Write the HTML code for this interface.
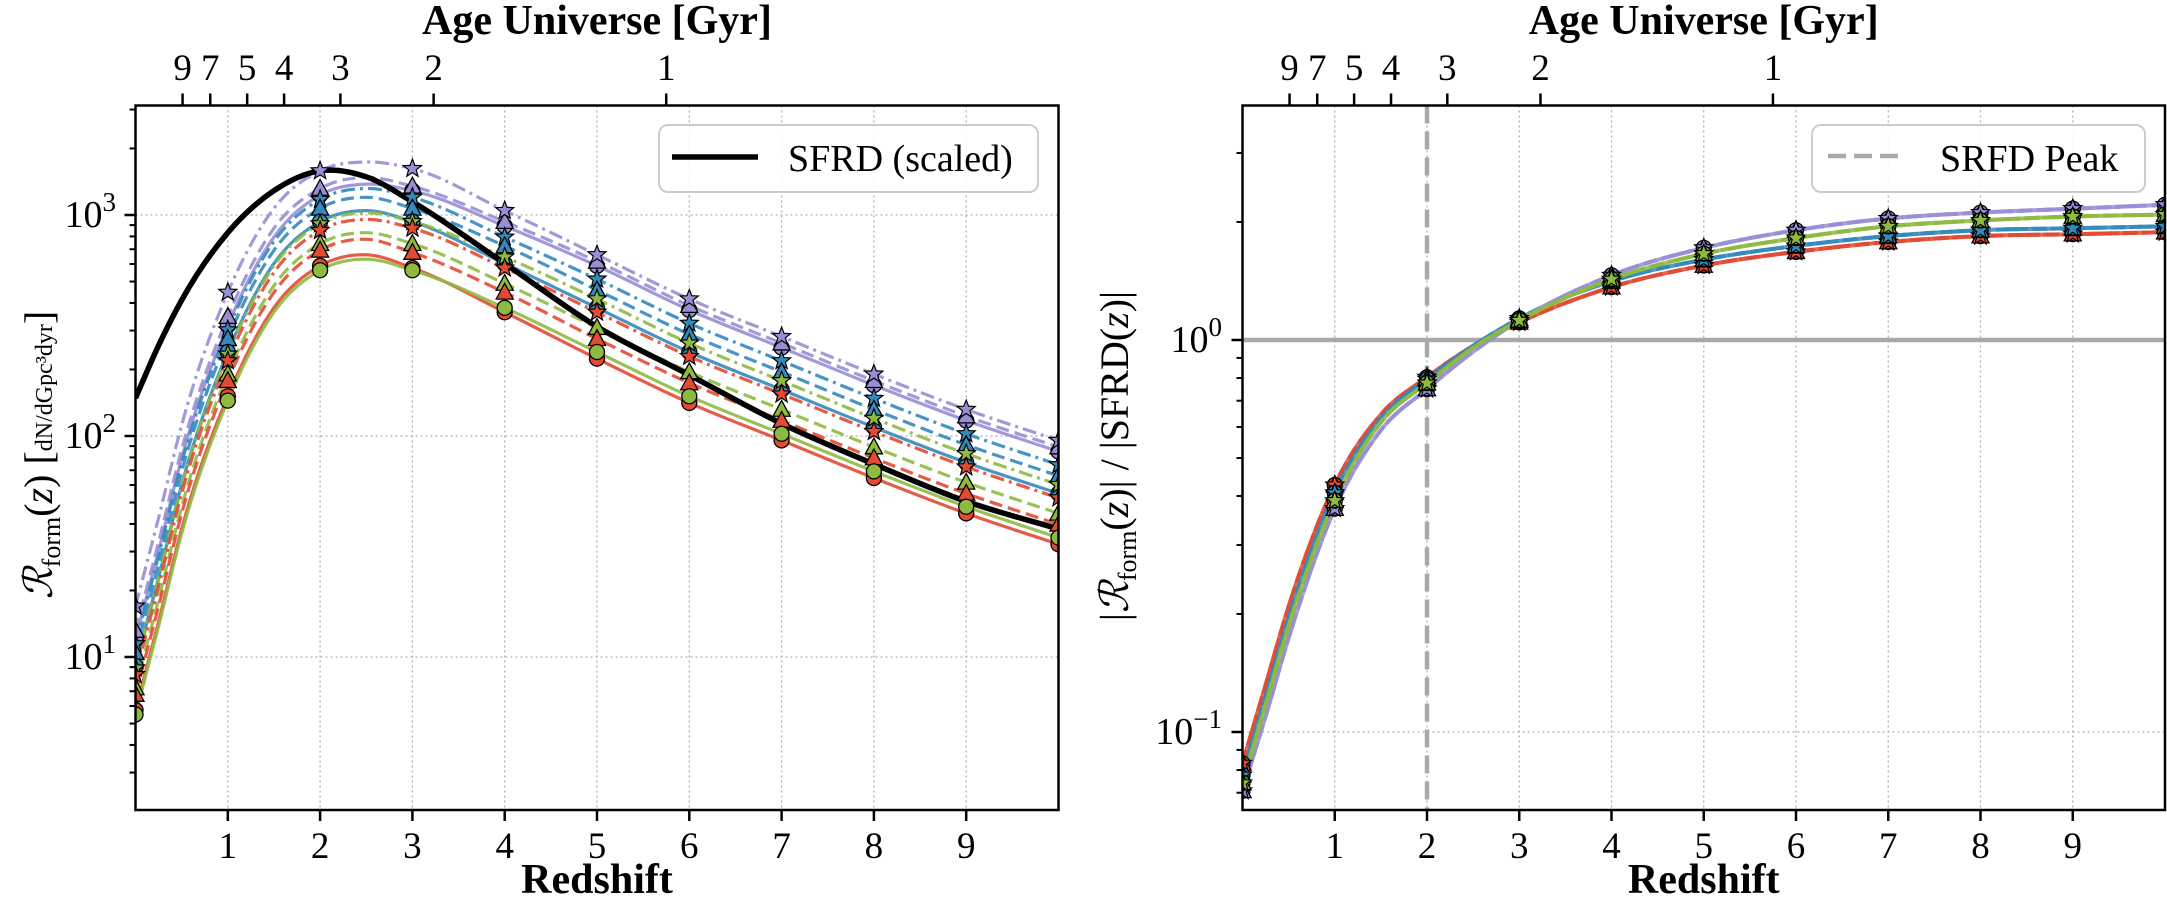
<!DOCTYPE html>
<html><head><meta charset="utf-8">
<style>
html,body{margin:0;padding:0;background:#fff;}
svg{display:block;font-family:"Liberation Serif","DejaVu Serif",serif;}
</style></head>
<body>
<svg id="fig" width="2167" height="904" viewBox="0 0 2167 904" xmlns="http://www.w3.org/2000/svg">
<defs>
<clipPath id="clipL"><rect x="135.5" y="105.5" width="923" height="704.5"/></clipPath>
<clipPath id="clipR"><rect x="1242.5" y="105.5" width="922.5" height="704.5"/></clipPath>
</defs>
<g id="left"></g>
<g id="right"></g>
</svg>
<script>
// ---------- data ----------
const zGrid = [0,0.25,0.5,1,1.5,2,2.5,3,4,5,6,7,8,9,10];
const sfrdLog = [2.172,2.41,2.615,2.92,3.11,3.20,3.173,3.06,2.78,2.495,2.276,2.056,1.873,1.704,1.579];
// log10 formation rate per model (left panel)
const purpleCircle = [1.08,1.48,1.90,2.50,2.90,3.09,3.14,3.11,2.95,2.77,2.57,2.40,2.23,2.07,1.93];
const purpleTri    = [1.12,1.52,1.94,2.54,2.94,3.12,3.17,3.13,2.97,2.79,2.59,2.42,2.25,2.09,1.95];
const purpleStar   = [1.23,1.63,2.05,2.65,3.03,3.20,3.24,3.21,3.02,2.82,2.62,2.45,2.28,2.12,1.98];
const blueStar     = [1.06,1.46,1.88,2.48,2.88,3.07,3.12,3.08,2.90,2.71,2.51,2.34,2.17,2.01,1.87];
const blueTri      = [1.02,1.42,1.84,2.44,2.84,3.03,3.08,3.03,2.86,2.66,2.46,2.29,2.12,1.96,1.82];
const blueCircle   = [0.96,1.36,1.78,2.38,2.78,2.97,3.02,2.97,2.78,2.58,2.38,2.21,2.04,1.88,1.74];
const greenStar    = [0.95,1.35,1.77,2.37,2.77,2.96,3.01,2.97,2.81,2.62,2.42,2.25,2.08,1.92,1.78];
const orangeStar   = [0.92,1.32,1.74,2.34,2.74,2.93,2.98,2.94,2.76,2.56,2.36,2.19,2.02,1.86,1.72];
const greenTri     = [0.86,1.26,1.68,2.28,2.68,2.87,2.92,2.87,2.69,2.49,2.29,2.12,1.95,1.79,1.65];
const orangeTri    = [0.83,1.23,1.65,2.25,2.65,2.84,2.89,2.83,2.65,2.44,2.24,2.07,1.90,1.74,1.60];
const orangeCircle = [0.76,1.16,1.58,2.18,2.58,2.77,2.82,2.76,2.56,2.35,2.15,1.98,1.81,1.65,1.51];
const greenCircle  = [0.74,1.14,1.56,2.16,2.56,2.75,2.80,2.75,2.58,2.38,2.18,2.01,1.84,1.68,1.54];
// log10 ratio Rform/SFRD (right panel), per colour
const ratioPurple = [-1.15,-0.96,-0.76,-0.43,-0.23,-0.125,-0.03,0.05,0.165,0.235,0.28,0.31,0.325,0.335,0.345];
const ratioBlue   = [-1.11,-0.91,-0.71,-0.39,-0.20,-0.10,-0.015,0.055,0.15,0.205,0.24,0.265,0.28,0.285,0.29];
const ratioOrange = [-1.08,-0.88,-0.68,-0.37,-0.19,-0.095,-0.015,0.045,0.135,0.19,0.225,0.25,0.265,0.27,0.275];
const ratioGreen  = [-1.13,-0.93,-0.73,-0.41,-0.21,-0.11,-0.02,0.05,0.155,0.22,0.26,0.29,0.305,0.315,0.32];
const ageLabels = ["9","7","5","4","3","2","1"];
const ageZ = [0.51,0.81,1.21,1.61,2.22,3.23,5.75];
const xTickLabels = ["1","2","3","4","5","6","7","8","9"];
const peakZ = 2;

// ---------- helpers ----------
const NS="http://www.w3.org/2000/svg";
function mk(tag, attrs, parent){const e=document.createElementNS(NS,tag);for(const k in attrs)e.setAttribute(k,attrs[k]);parent.appendChild(e);return e;}
const C={purple:"#988ED5",blue:"#348ABD",orange:"#E24A33",green:"#8EBA42"};
const DASH={circle:"none",tri:"13,6",star:"14,5,3,5"};

const xL=z=>135.5+z*92.3, yL=lg=>215-(lg-3)*221;
const xR=z=>1242.5+z*92.25, yR=lg=>340-lg*392;

function pathFrom(xs,ys){
  const n=xs.length;let d=`M${xs[0].toFixed(1)},${ys[0].toFixed(1)}`;
  const s=[];for(let i=0;i<n-1;i++)s.push((ys[i+1]-ys[i])/(xs[i+1]-xs[i]));
  const m=[];
  for(let i=0;i<n;i++){
    if(i===0){m.push(s[0]);continue;}
    if(i===n-1){m.push(s[n-2]);continue;}
    const h0=xs[i]-xs[i-1],h1=xs[i+1]-xs[i];
    m.push((h1*s[i-1]+h0*s[i])/(h0+h1));
  }
  for(let i=0;i<n-1;i++){
    const dx=(xs[i+1]-xs[i])/3;
    d+=` C${(xs[i]+dx).toFixed(1)},${(ys[i]+m[i]*dx).toFixed(1)} ${(xs[i+1]-dx).toFixed(1)},${(ys[i+1]-m[i+1]*dx).toFixed(1)} ${xs[i+1].toFixed(1)},${ys[i+1].toFixed(1)}`;
  }
  return d;
}
function marker(g,type,x,y,color){
  let e;
  if(type==="circle"){e=mk("circle",{cx:x,cy:y,r:7.5,fill:color,stroke:"#000","stroke-width":1.3},g);}
  else if(type==="tri"){const s=9;e=mk("polygon",{points:`${x},${y-s} ${x-s*0.95},${y+s*0.75} ${x+s*0.95},${y+s*0.75}`,fill:color,stroke:"#000","stroke-width":1.3},g);}
  else{let p=[];for(let k=0;k<10;k++){const r=k%2?4:9.5,a=-Math.PI/2+k*Math.PI/5;p.push((x+r*Math.cos(a)).toFixed(1)+","+(y+r*Math.sin(a)).toFixed(1));}
    e=mk("polygon",{points:p.join(" "),fill:color,stroke:"#000","stroke-width":1.2},g);}
  
  
}
function text(g,x,y,str,size,anchor,extra){const t=mk("text",Object.assign({x:x,y:y,"font-size":size,"text-anchor":anchor||"middle"},extra||{}),g);t.textContent=str;return t;}

function frame(g,x0,x1,y0,y1,xf){
  for(let i=0;i<xTickLabels.length;i++){
    const z=+xTickLabels[i], x=xf(z);
    const l=mk("line",{x1:x,x2:x,y1:y0,y2:y1,stroke:"#b0b0b0","stroke-width":1.3,"stroke-dasharray":"2,3"},g);
    
    
    const tk=mk("line",{x1:x,x2:x,y1:y1,y2:y1+11,stroke:"#000","stroke-width":2.5},g);
    
    
    const tl=text(g,x,858,xTickLabels[i],37);
    
    
  }
  for(let i=0;i<ageZ.length;i++){
    const x=xf(ageZ[i]);
    const tk=mk("line",{x1:x,x2:x,y1:y0,y2:y0-12,stroke:"#000","stroke-width":2.5},g);
    
    
    const tl=text(g,x,80,ageLabels[i],37);
    
    
  }
  const t1=text(g,(x0+x1)/2,34,"Age Universe [Gyr]",42,"middle",{"font-weight":"bold"});
  
  
  const t2=text(g,(x0+x1)/2,893,"Redshift",42,"middle",{"font-weight":"bold"});
  
  
}
function yTicks(g,x0,yf,lo,hi){
  for(let k=Math.floor(lo);k<=Math.ceil(hi);k++){
    for(let m=1;m<10;m++){
      const lg=k+Math.log10(m); if(lg<lo||lg>hi) continue;
      const y=yf(lg);
      const tk=mk("line",{x1:x0,x2:x0-(m===1?11:6),y1:y,y2:y,stroke:"#000","stroke-width":m===1?2.5:2},g);
      
      
    }
  }
}
function box(g,x0,x1,y0,y1){
  const r=mk("rect",{x:x0,y:y0,width:x1-x0,height:y1-y0,fill:"none",stroke:"#000","stroke-width":2.5},g);
  
  
}
function powLabel(g,x,y,exp){
  const t=mk("text",{x:x,y:y,"font-size":38,"text-anchor":"end"},g);
  
  
  const a=mk("tspan",{},t);a.textContent="10";
  const b=mk("tspan",{dy:-16,"font-size":27},t);b.textContent=exp;
}

// ---------- left panel ----------
const gL=document.getElementById("left");
const lx0=135.5,lx1=1058.5,ly0=105.5,ly1=810;
[1,2,3].forEach(k=>{const l=mk("line",{x1:lx0,x2:lx1,y1:yL(k),y2:yL(k),stroke:"#b0b0b0","stroke-width":1.3,"stroke-dasharray":"2,3"},gL);
  
  });
frame(gL,lx0,lx1,ly0,ly1,xL);
yTicks(gL,lx0,yL,0.308,3.497);
powLabel(gL,116,669,"1");powLabel(gL,116,448,"2");powLabel(gL,116,227,"3");

const leftSeries=[
 {d:purpleCircle,c:C.purple,t:"circle",n:"purple-solid"},
 {d:purpleTri,c:C.purple,t:"tri",n:"purple-dashed"},
 {d:purpleStar,c:C.purple,t:"star",n:"purple-dashdot"},
 {d:blueStar,c:C.blue,t:"star",n:"blue-dashdot"},
 {d:blueTri,c:C.blue,t:"tri",n:"blue-dashed"},
 {d:blueCircle,c:C.blue,t:"circle",n:"blue-solid"},
 {d:greenStar,c:C.green,t:"star",n:"green-dashdot"},
 {d:orangeStar,c:C.orange,t:"star",n:"orange-dashdot"},
 {d:greenTri,c:C.green,t:"tri",n:"green-dashed"},
 {d:orangeTri,c:C.orange,t:"tri",n:"orange-dashed"},
 {d:orangeCircle,c:C.orange,t:"circle",n:"orange-solid"},
 {d:greenCircle,c:C.green,t:"circle",n:"green-solid"}
];
const gLc=mk("g",{"clip-path":"url(#clipL)"},gL);


leftSeries.forEach(s=>{
  const p=mk("path",{d:pathFrom(zGrid.map(xL),s.d.map(yL)),fill:"none",stroke:s.c,"stroke-width":3.2,"stroke-opacity":0.9,"stroke-dasharray":DASH[s.t]},gLc);
  
  
});
const sf=mk("path",{d:pathFrom(zGrid.map(xL),sfrdLog.map(yL)),fill:"none",stroke:"#000","stroke-width":5.5},gLc);


leftSeries.forEach(s=>{
  zGrid.forEach((z,i)=>{ if(Number.isInteger(z)) marker(gLc,s.t,xL(z),yL(s.d[i]),s.c); });
});
box(gL,lx0,lx1,ly0,ly1);
const lg1=mk("g",{},gL);


mk("rect",{x:659,y:125,width:379,height:67,rx:9,fill:"#fff","fill-opacity":0.85,stroke:"#cccccc","stroke-width":2},lg1);
const ll=mk("line",{x1:672,x2:758,y1:157,y2:157,stroke:"#000","stroke-width":5.5},lg1);


const lt=text(lg1,788,171,"SFRD (scaled)",38,"start");


const yl=mk("text",{transform:"translate(52,455) rotate(-90)","font-size":40,"text-anchor":"middle"},gL);


(function(){const a=mk("tspan",{"font-style":"italic"},yl);a.textContent="ℛ";
 const b=mk("tspan",{"font-size":26,dy:8},yl);b.textContent="form";
 const c=mk("tspan",{dy:-8},yl);c.textContent="(";
 const d=mk("tspan",{"font-style":"italic"},yl);d.textContent="z";
 const e=mk("tspan",{},yl);e.textContent=")   [";
 const f=mk("tspan",{"font-size":24},yl);f.textContent="dN/dGpc³dyr";
 const h=mk("tspan",{},yl);h.textContent="]";})();

// ---------- right panel ----------
const gR=document.getElementById("right");
const rx0=1242.5,rx1=2165,ry0=105.5,ry1=810;
const gl=mk("line",{x1:rx0,x2:rx1,y1:yR(-1),y2:yR(-1),stroke:"#b0b0b0","stroke-width":1.3,"stroke-dasharray":"2,3"},gR);


frame(gR,rx0,rx1,ry0,ry1,xR);
yTicks(gR,rx0,yR,-1.199,0.6);
powLabel(gR,1222,352,"0");powLabel(gR,1222,744,"−1");
const unity=mk("line",{x1:rx0,x2:rx1,y1:yR(0),y2:yR(0),stroke:"#a9a9a9","stroke-width":4.5},gR);


const pk=mk("line",{x1:xR(peakZ),x2:xR(peakZ),y1:ry0,y2:ry1,stroke:"#a9a9a9","stroke-width":4.5,"stroke-dasharray":"18,8"},gR);


const rightSeries=[
 {d:ratioOrange,c:C.orange,n:"orange"},
 {d:ratioBlue,c:C.blue,n:"blue"},
 {d:ratioPurple,c:C.purple,n:"purple"},
 {d:ratioGreen,c:C.green,n:"green"}
];
const gRc=mk("g",{"clip-path":"url(#clipR)"},gR);


rightSeries.forEach(s=>{
  ["circle","tri","star"].forEach(t=>{
    const p=mk("path",{d:pathFrom(zGrid.map(xR),s.d.map(yR)),fill:"none",stroke:s.c,"stroke-width":4,"stroke-opacity":0.85,"stroke-dasharray":DASH[t]},gRc);
    
    
  });
});
rightSeries.forEach(s=>{
  ["circle","tri","star"].forEach(t=>{
    zGrid.forEach((z,i)=>{ if(Number.isInteger(z)) marker(gRc,t,xR(z),yR(s.d[i]),s.c); });
  });
});
box(gR,rx0,rx1,ry0,ry1);
const lg2=mk("g",{},gR);


mk("rect",{x:1812,y:125,width:333,height:67,rx:9,fill:"#fff","fill-opacity":0.85,stroke:"#cccccc","stroke-width":2},lg2);
const l2=mk("line",{x1:1828,x2:1905,y1:156,y2:156,stroke:"#a9a9a9","stroke-width":4.5,"stroke-dasharray":"18,8"},lg2);


const t2=text(lg2,1940,171,"SRFD Peak",38,"start");


const yl2=mk("text",{transform:"translate(1128,456) rotate(-90)","font-size":40,"text-anchor":"middle"},gR);


(function(){const a=mk("tspan",{},yl2);a.textContent="|";
 const a2=mk("tspan",{"font-style":"italic"},yl2);a2.textContent="ℛ";
 const b=mk("tspan",{"font-size":26,dy:8},yl2);b.textContent="form";
 const c=mk("tspan",{dy:-8},yl2);c.textContent="(";
 const d=mk("tspan",{"font-style":"italic"},yl2);d.textContent="z";
 const e=mk("tspan",{},yl2);e.textContent=")|  /  |SFRD(";
 const f=mk("tspan",{"font-style":"italic"},yl2);f.textContent="z";
 const h=mk("tspan",{},yl2);h.textContent=")|";})();
</script>
</body></html>
